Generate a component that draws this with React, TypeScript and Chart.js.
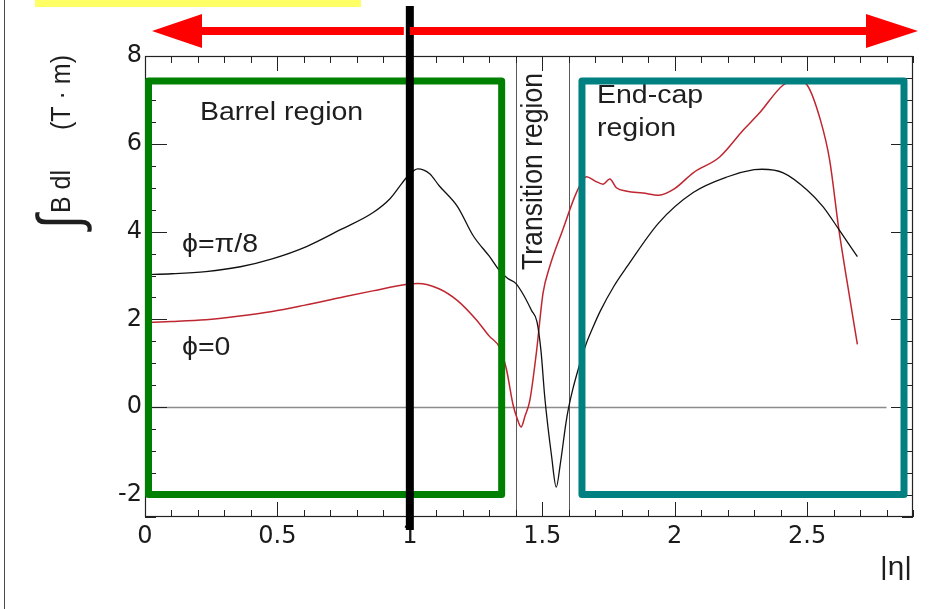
import React, { useEffect, useRef } from "react";
import { Chart, registerables } from "chart.js";

Chart.register(...registerables);

// ---- data ----
// φ = π/8 (black curve)
const ETA_PI8 = [0, 0.1, 0.23, 0.36, 0.48, 0.61, 0.74, 0.86, 0.925, 0.97, 0.99, 1.03, 1.075, 1.11, 1.18, 1.24, 1.3, 1.34, 1.37, 1.4, 1.43, 1.46, 1.48, 1.495, 1.51, 1.535, 1.553, 1.568, 1.59, 1.6, 1.615, 1.64, 1.665, 1.69, 1.72, 1.77, 1.82, 1.94, 2.07, 2.2, 2.3, 2.33, 2.41, 2.5, 2.56, 2.62, 2.69];
const BDL_PI8 = [3.02, 3.04, 3.09, 3.2, 3.38, 3.66, 4.05, 4.43, 4.75, 5.1, 5.25, 5.43, 5.32, 5.05, 4.57, 3.9, 3.44, 3.1, 2.93, 2.82, 2.55, 2.2, 1.95, 1.3, 0.2, -1.1, -1.82, -1.3, -0.34, 0.0, 0.4, 0.95, 1.43, 1.8, 2.2, 2.75, 3.2, 4.2, 4.89, 5.25, 5.41, 5.42, 5.34, 4.95, 4.57, 4.05, 3.43];
// φ = 0 (red curve)
const ETA_ZERO = [0, 0.1, 0.23, 0.35, 0.48, 0.6, 0.74, 0.86, 0.99, 1.03, 1.11, 1.18, 1.25, 1.3, 1.34, 1.365, 1.39, 1.405, 1.42, 1.435, 1.453, 1.478, 1.503, 1.528, 1.578, 1.63, 1.667, 1.7, 1.73, 1.755, 1.78, 1.82, 1.88, 1.94, 2.0, 2.07, 2.17, 2.26, 2.32, 2.41, 2.46, 2.5, 2.55, 2.585, 2.62, 2.65, 2.69];
const BDL_ZERO = [1.93, 1.95, 1.99, 2.07, 2.18, 2.32, 2.5, 2.65, 2.8, 2.82, 2.7, 2.43, 2.0, 1.62, 1.35, 0.86, 0.05, -0.25, -0.45, -0.2, 0.15, 1.25, 2.6, 3.2, 4.05, 4.9, 5.25, 5.15, 5.08, 5.2, 5.0, 4.92, 4.88, 4.83, 4.98, 5.34, 5.7, 6.32, 6.7, 7.34, 7.45, 7.34, 6.55, 5.64, 4.05, 2.9, 1.43];

const X_TICKS = [0, 0.5, 1, 1.5, 2, 2.5];
const Y_TICKS = [-2, 0, 2, 4, 6, 8];
const X_MIN = 0;
const X_MAX = 2.9;
const Y_MIN = -2.5;
const Y_MAX = 8;
const X_MINOR_STEP = 0.1;
const Y_MINOR_STEP = 0.5;
const ZERO_LINE_END = 2.8;
const REGION_EDGES = [1.4, 1.6];
const CURVE_LABELS = ["ϕ=π/8", "ϕ=0"];
const REGION_LABELS = ["Barrel region", "End-cap", "region", "Transition region"];
const AXIS_TITLES = ["∫", "B dl", "(T · m)", "|η|"];

// ---- styling ----
const SX = 1.14; // the original figure is stretched horizontally
const TEXT_FONT = '"Liberation Sans", Arial, sans-serif';
const TEXT_COLOR = "#1e1e1e";
const RED = "#bf2630";

function drawText(
  ctx: CanvasRenderingContext2D,
  text: string,
  x: number,
  y: number,
  size: number,
  rotate = false,
  align: CanvasTextAlign = "left"
) {
  ctx.save();
  ctx.translate(x, y);
  ctx.scale(SX, 1);
  if (rotate) ctx.rotate(-Math.PI / 2);
  ctx.font = `${size}px ${TEXT_FONT}`;
  ctx.textAlign = align;
  ctx.textBaseline = "alphabetic";
  ctx.fillStyle = TEXT_COLOR;
  ctx.fillText(text, 0, 0);
  ctx.restore();
}

const framePlugin = {
  id: "rootFrame",
  beforeDatasetsDraw(chart: any) {
    const { ctx, chartArea: a, scales } = chart;
    const x = scales.x;
    const y = scales.y;
    ctx.save();
    const y0 = Math.round(y.getPixelForValue(0)) + 0.5;
    ctx.strokeStyle = "#8c8c8c";
    ctx.lineWidth = 1.6;
    ctx.beginPath();
    ctx.moveTo(x.getPixelForValue(0), y0);
    ctx.lineTo(x.getPixelForValue(ZERO_LINE_END), y0);
    ctx.stroke();
    ctx.strokeStyle = "#5a5a5a";
    ctx.lineWidth = 1;
    for (const e of REGION_EDGES) {
      const px = Math.round(x.getPixelForValue(e)) + 0.5;
      ctx.beginPath();
      ctx.moveTo(px, a.top);
      ctx.lineTo(px, a.bottom);
      ctx.stroke();
    }
    ctx.restore();
  },
  afterDatasetsDraw(chart: any) {
    const { ctx, chartArea: a, scales } = chart;
    const x = scales.x;
    const y = scales.y;
    ctx.save();
    ctx.strokeStyle = "#222";
    ctx.lineWidth = 1.2;
    ctx.strokeRect(a.left + 0.5, a.top + 0.5, a.right - a.left - 1, a.bottom - a.top - 1);
    ctx.lineWidth = 1;
    ctx.beginPath();
    const nx = Math.round((X_MAX - X_MIN) / X_MINOR_STEP);
    for (let i = 0; i <= nx; i++) {
      const v = X_MIN + i * X_MINOR_STEP;
      const px = Math.round(x.getPixelForValue(v)) + 0.5;
      const len = i % 5 === 0 ? 15 : 7;
      ctx.moveTo(px, a.bottom);
      ctx.lineTo(px, a.bottom - len);
      ctx.moveTo(px, a.top);
      ctx.lineTo(px, a.top + len);
    }
    const ny0 = Math.ceil(Y_MIN / Y_MINOR_STEP);
    const ny1 = Math.floor(Y_MAX / Y_MINOR_STEP);
    for (let i = ny0; i <= ny1; i++) {
      const v = i * Y_MINOR_STEP;
      const py = Math.round(y.getPixelForValue(v)) + 0.5;
      const len = i % 4 === 0 ? 22 : 11;
      ctx.moveTo(a.left, py);
      ctx.lineTo(a.left + len, py);
      ctx.moveTo(a.right, py);
      ctx.lineTo(a.right - len, py);
    }
    ctx.stroke();
    ctx.restore();
  },
  afterDraw(chart: any) {
    const { ctx, chartArea: a, scales } = chart;
    const x = scales.x;
    const y = scales.y;
    ctx.save();

    ctx.fillStyle = "#4a4a4a";
    ctx.fillRect(4, 0, 1, 609);

    ctx.fillStyle = "#ffff66";
    ctx.fillRect(35, 0, 326, 7);

    drawText(ctx, REGION_LABELS[0], 200, 120, 25);
    drawText(ctx, REGION_LABELS[1], 597, 103, 25);
    drawText(ctx, REGION_LABELS[2], 597, 136, 25);
    drawText(ctx, REGION_LABELS[3], 542, 270, 26.6, true);
    drawText(ctx, CURVE_LABELS[0], 182, 252, 25);
    drawText(ctx, CURVE_LABELS[1], 182, 355, 25);
    drawText(ctx, AXIS_TITLES[3], 912, 575, 26, false, "right");

    drawText(ctx, AXIS_TITLES[1], 70, 213, 25, true);
    drawText(ctx, AXIS_TITLES[2], 70, 130, 25, true);
    ctx.save();
    ctx.font = `100px ${TEXT_FONT}`;
    const m = ctx.measureText(AXIS_TITLES[0]);
    const gh = m.actualBoundingBoxAscent + m.actualBoundingBoxDescent;
    const k = 57 / (gh * SX);
    const cx = (m.actualBoundingBoxRight - m.actualBoundingBoxLeft) / 2;
    ctx.restore();
    drawText(ctx, AXIS_TITLES[0], 35 + m.actualBoundingBoxAscent * k * SX, 222 + cx * k, 100 * k, true);

    ctx.lineJoin = "round";
    ctx.strokeStyle = "#008000";
    ctx.lineWidth = 7;
    const gx0 = x.getPixelForValue(0) + 3.5;
    const gx1 = x.getPixelForValue(1.36) - 3.5;
    const by0 = y.getPixelForValue(7.43);
    const by1 = y.getPixelForValue(-1.99);
    ctx.strokeRect(gx0, by0, gx1 - gx0, by1 - by0);

    ctx.strokeStyle = "#008080";
    const tx0 = x.getPixelForValue(1.65);
    const tx1 = x.getPixelForValue(2.866);
    ctx.strokeRect(tx0, by0, tx1 - tx0, by1 - by0);

    ctx.fillStyle = "#000";
    const bx = x.getPixelForValue(1.0);
    ctx.fillRect(bx - 4, 6, 8, a.bottom + 13 - 6);

    ctx.fillStyle = "#ff0000";
    ctx.fillRect(200, 27, bx - 6 - 200, 8);
    ctx.beginPath();
    ctx.moveTo(152, 31);
    ctx.lineTo(202, 14);
    ctx.lineTo(202, 48);
    ctx.closePath();
    ctx.fill();
    ctx.fillRect(bx, 27, 868 - bx, 8);
    ctx.beginPath();
    ctx.moveTo(918, 31);
    ctx.lineTo(866, 14);
    ctx.lineTo(866, 48);
    ctx.closePath();
    ctx.fill();

    ctx.restore();
  },
};

export default function App() {
  const ref = useRef<HTMLCanvasElement | null>(null);

  useEffect(() => {
    if (!ref.current) return;
    const chart = new Chart(ref.current, {
      type: "line",
      data: {
        datasets: [
          {
            label: CURVE_LABELS[0],
            data: ETA_PI8.map((e, i) => ({ x: e, y: BDL_PI8[i] })),
            borderColor: "#111",
            borderWidth: 1.3,
            pointRadius: 0,
            cubicInterpolationMode: "monotone",
            fill: false,
          },
          {
            label: CURVE_LABELS[1],
            data: ETA_ZERO.map((e, i) => ({ x: e, y: BDL_ZERO[i] })),
            borderColor: RED,
            borderWidth: 1.5,
            pointRadius: 0,
            cubicInterpolationMode: "monotone",
            fill: false,
          },
        ],
      },
      options: {
        responsive: false,
        animation: false,
        devicePixelRatio: 1,
        layout: { padding: { left: 0, top: 56, right: 20, bottom: 0 } },
        plugins: {
          legend: { display: false },
          tooltip: { enabled: false },
        },
        events: [],
        scales: {
          x: {
            type: "linear",
            min: X_MIN,
            max: X_MAX,
            grid: { display: false, drawTicks: false },
            border: { display: false },
            afterBuildTicks: (s: any) => {
              s.ticks = X_TICKS.map((v) => ({ value: v }));
            },
            afterFit: (s: any) => {
              s.height = 92;
            },
            ticks: {
              padding: 5,
              color: "#1a1a1a",
              font: { family: '"DejaVu Sans", sans-serif', size: 24 },
              maxRotation: 0,
              callback: (v: any) => String(v),
            },
          },
          y: {
            type: "linear",
            min: Y_MIN,
            max: Y_MAX,
            grid: { display: false, drawTicks: false },
            border: { display: false },
            afterBuildTicks: (s: any) => {
              s.ticks = Y_TICKS.map((v) => ({ value: v }));
            },
            afterFit: (s: any) => {
              s.width = 145;
            },
            ticks: {
              padding: 3,
              color: "#1a1a1a",
              font: { family: '"DejaVu Sans", sans-serif', size: 24 },
              callback: (v: any) => String(v),
            },
          },
        },
      } as any,
      plugins: [framePlugin],
    });
    return () => chart.destroy();
  }, []);

  return (
    <div style={{ position: "absolute", left: 0, top: 0, width: 933, height: 609, background: "#fff" }}>
      <canvas ref={ref} width={933} height={609} style={{ display: "block", width: 933, height: 609 }} />
    </div>
  );
}
